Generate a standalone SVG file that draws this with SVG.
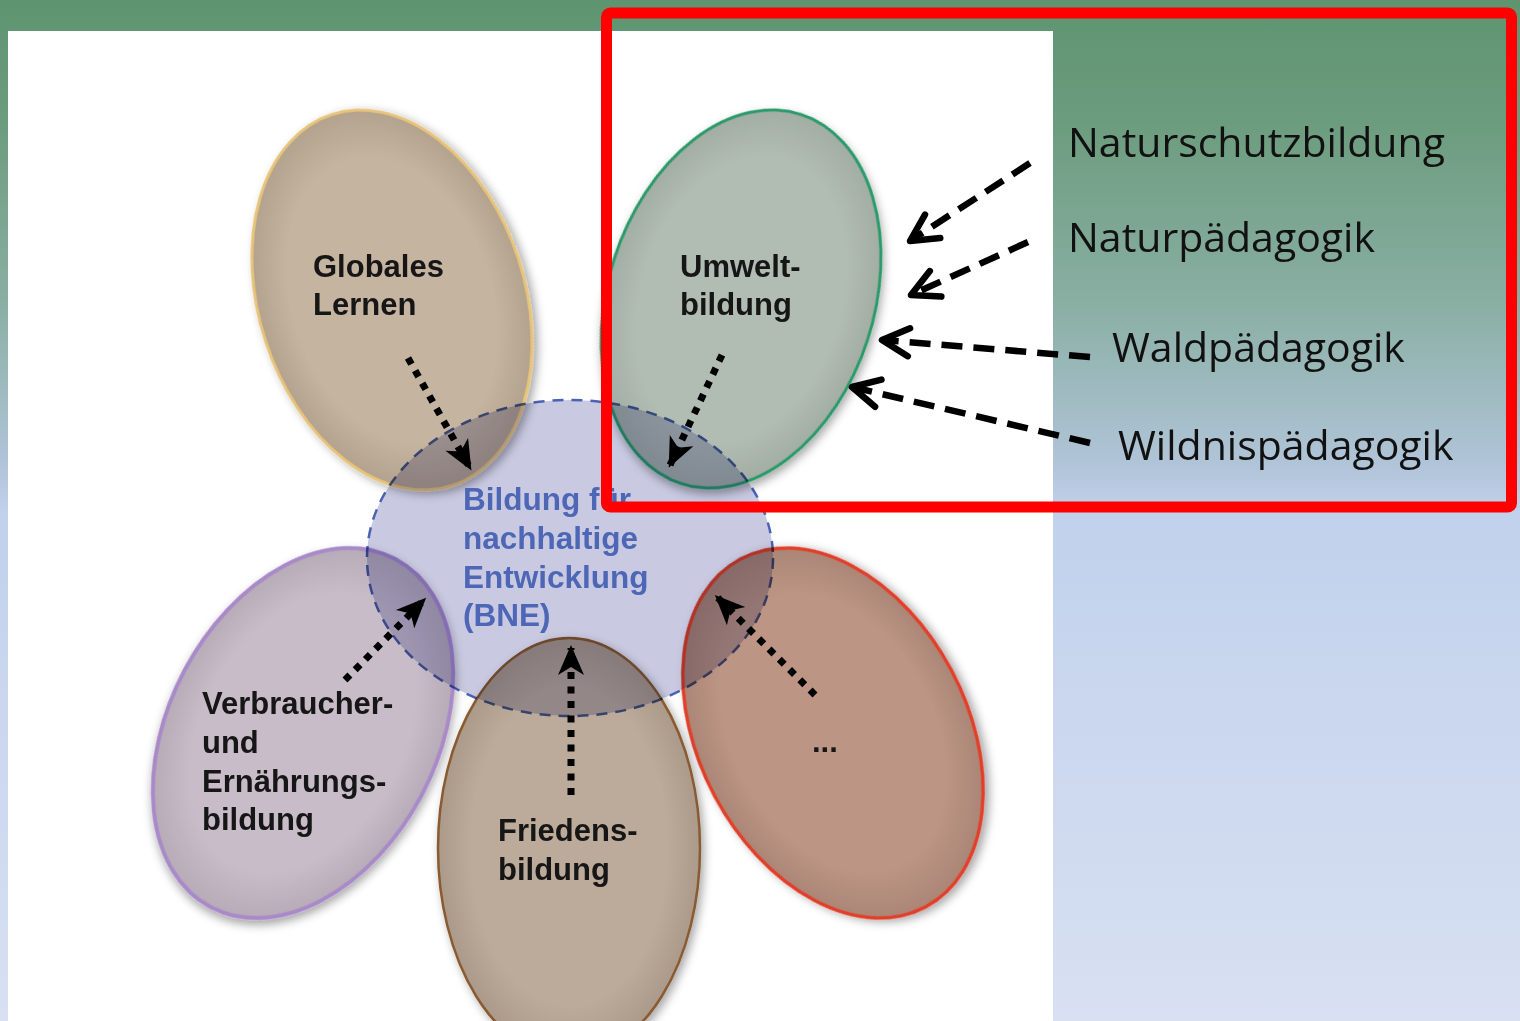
<svg xmlns="http://www.w3.org/2000/svg" width="1520" height="1021" viewBox="0 0 1520 1021">
<defs>
<linearGradient id="bg" x1="0" y1="0" x2="0" y2="1021" gradientUnits="userSpaceOnUse">
<stop offset="0" stop-color="#5e9470"/>
<stop offset="0.12" stop-color="#6c9c7e"/>
<stop offset="0.3" stop-color="#8aafa4"/>
<stop offset="0.46" stop-color="#b2c5da"/>
<stop offset="0.5" stop-color="#c1d1ec"/>
<stop offset="1" stop-color="#d8e0f2"/>
</linearGradient>
<radialGradient id="gGlob"><stop offset="0.75" stop-color="#c4b4a0"/><stop offset="1" stop-color="#b3a28e"/></radialGradient>
<radialGradient id="gUmw"><stop offset="0.75" stop-color="#b1bcb2"/><stop offset="1" stop-color="#a2ada3"/></radialGradient>
<radialGradient id="gVer"><stop offset="0.75" stop-color="#c8bcc8"/><stop offset="1" stop-color="#b7abb8"/></radialGradient>
<radialGradient id="gFri"><stop offset="0.75" stop-color="#bcab9a"/><stop offset="1" stop-color="#ab9a89"/></radialGradient>
<radialGradient id="gDot"><stop offset="0.75" stop-color="#bc9584"/><stop offset="1" stop-color="#ab8575"/></radialGradient>
<filter id="sh" x="-20%" y="-20%" width="140%" height="140%">
<feGaussianBlur in="SourceAlpha" stdDeviation="5"/>
<feOffset dx="3" dy="4" result="b"/>
<feFlood flood-color="#000" flood-opacity="0.35"/>
<feComposite in2="b" operator="in"/>
<feMerge><feMergeNode/><feMergeNode in="SourceGraphic"/></feMerge>
</filter>
<marker id="tri" markerUnits="userSpaceOnUse" orient="auto" overflow="visible" markerWidth="1" markerHeight="1" refX="0" refY="0">
<path d="M3,0 L-27,-13 L-19,0 L-27,13 Z" fill="#000" stroke="none"/>
</marker>
<marker id="chev" markerUnits="userSpaceOnUse" orient="auto" overflow="visible" markerWidth="1" markerHeight="1" refX="0" refY="0">
<path d="M-27,-14 L0,0 L-27,14" fill="none" stroke="#000" stroke-width="6.5" stroke-dasharray="none" stroke-linecap="round" stroke-linejoin="round"/>
</marker>
</defs>
<style>
.lab{font-family:"Liberation Sans",Arial,Helvetica,sans-serif;font-weight:bold;font-size:31px;fill:#161616}
.bne{font-family:"Liberation Sans",Arial,Helvetica,sans-serif;font-weight:bold;font-size:31.5px;fill:#4d67b6}
.side{font-family:"Open Sans","Noto Sans",sans-serif;font-size:41px;fill:#111}
.dot{fill:none;stroke:#000;stroke-width:7;stroke-dasharray:7 7.5;marker-end:url(#tri)}
.dash{fill:none;stroke:#000;stroke-width:6.5;stroke-dasharray:21 11;marker-end:url(#chev)}
</style>
<rect x="0" y="0" width="1520" height="1021" fill="url(#bg)"/>
<rect x="8" y="31" width="1045" height="990" fill="#fff"/>

<g id="node-globales">
<ellipse cx="392" cy="300" rx="133" ry="195" transform="rotate(-18 392 300)" fill="url(#gGlob)" stroke="#e8c47a" stroke-width="3" filter="url(#sh)"/>
</g>
<g id="node-umwelt">
<ellipse cx="741" cy="299" rx="133" ry="194" transform="rotate(18 741 299)" fill="url(#gUmw)" stroke="#2a9a6a" stroke-width="3" filter="url(#sh)"/>
</g>
<g id="node-verbraucher">
<ellipse cx="303" cy="733" rx="134" ry="197" transform="rotate(28 303 733)" fill="url(#gVer)" stroke="#a98ac8" stroke-width="4" filter="url(#sh)"/>
</g>
<g id="node-dots">
<ellipse cx="833" cy="733" rx="134" ry="197" transform="rotate(-28 833 733)" fill="url(#gDot)" stroke="#e0402c" stroke-width="3.5" filter="url(#sh)"/>
</g>
<g id="node-frieden">
<ellipse cx="569" cy="848" rx="131" ry="210" fill="url(#gFri)" stroke="#8a5a30" stroke-width="2.5" filter="url(#sh)"/>
</g>
<g id="node-bne">
<ellipse cx="570" cy="558" rx="203" ry="158" fill="#c9cae2" stroke="#4a62b4" stroke-width="2.5" stroke-dasharray="11 8" style="mix-blend-mode:multiply"/>
<text class="bne" x="463" y="510">Bildung für</text>
<text class="bne" x="463" y="549">nachhaltige</text>
<text class="bne" x="463" y="588">Entwicklung</text>
<text class="bne" x="463" y="626">(BNE)</text>
</g>

<g id="labels">
<text class="lab" x="313" y="277">Globales</text>
<text class="lab" x="313" y="315">Lernen</text>
<text class="lab" x="680" y="277">Umwelt-</text>
<text class="lab" x="680" y="315">bildung</text>
<text class="lab" x="202" y="714">Verbraucher-</text>
<text class="lab" x="202" y="753">und</text>
<text class="lab" x="202" y="792">Ernährungs-</text>
<text class="lab" x="202" y="830">bildung</text>
<text class="lab" x="498" y="841">Friedens-</text>
<text class="lab" x="498" y="880">bildung</text>
<text class="lab" x="812" y="752">...</text>
</g>

<g id="connectors">
<path class="dot" d="M408,358 L470,468"/>
<path class="dot" d="M722,355 L670,465"/>
<path class="dot" d="M345,680 L424,600"/>
<path class="dot" d="M571,795 L571,648"/>
<path class="dot" d="M815,695 L717,597"/>
<path class="dash" d="M1030,163 L910,241"/>
<path class="dash" d="M1028,242 L911,295"/>
<path class="dash" d="M1090,357 L882,340"/>
<path class="dash" d="M1090,443 L852,387"/>
</g>

<g id="side-labels">
<text class="side" x="1068" y="157">Naturschutzbildung</text>
<text class="side" x="1068" y="252">Naturpädagogik</text>
<text class="side" x="1112" y="362">Waldpädagogik</text>
<text class="side" x="1118" y="460">Wildnispädagogik</text>
</g>

<rect id="highlight" x="606.5" y="13" width="905" height="494" rx="4" fill="none" stroke="#ff0000" stroke-width="11"/>
</svg>
